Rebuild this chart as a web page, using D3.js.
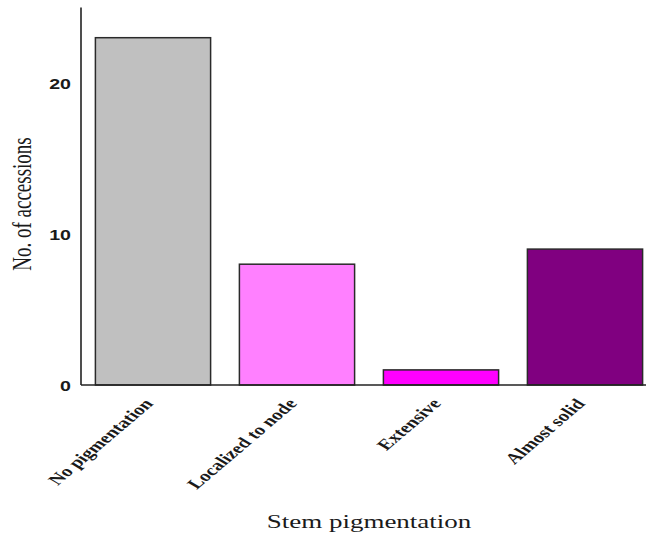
<!DOCTYPE html>
<html><head><meta charset="utf-8">
<script src="https://cdn.jsdelivr.net/npm/d3@7"></script>
<style>body{margin:0;background:#fff}svg{display:block}</style>
</head><body>
<svg id="chart" width="646" height="538"></svg>
<script>
const categories = ["No pigmentation", "Localized to node", "Extensive", "Almost solid"];
const values = [23, 8, 1, 9];
const colors = ["#c0c0c0", "#ff80ff", "#ff00ff", "#800080"];
const yTicks = [0, 10, 20];
const yTitle = "No. of accessions";
const xTitle = "Stem pigmentation";

(function () {
const W = 646, H = 538;
const svg = d3.select("#chart");
const mLeft = 81, mBottom = 385, mTop = 7.5;
const sx = 1.4; // horizontal stretch of the source figure

const x = d3.scaleBand().domain(categories).range([mLeft, 657]).paddingInner(0.2).paddingOuter(0.1);
const y = d3.scaleLinear().domain([0, 25]).range([mBottom, mTop]);

// bars
svg.selectAll("rect.bar").data(categories).join("rect")
  .attr("class", "bar")
  .attr("x", d => x(d))
  .attr("width", x.bandwidth())
  .attr("y", (d, i) => y(values[i]))
  .attr("height", (d, i) => y(0) - y(values[i]))
  .attr("fill", (d, i) => colors[i])
  .attr("stroke", "#2a2a2a")
  .attr("stroke-width", 1.5);

// axes lines
svg.append("line").attr("x1", mLeft).attr("x2", mLeft).attr("y1", y(25)).attr("y2", y(0))
  .attr("stroke", "#222").attr("stroke-width", 1.6);
svg.append("line").attr("x1", mLeft).attr("x2", W).attr("y1", y(0)).attr("y2", y(0))
  .attr("stroke", "#222").attr("stroke-width", 1.6);

// y ticks
const yAxis = svg.append("g").attr("transform", `translate(${mLeft},0)`)
  .call(d3.axisLeft(y).tickValues(yTicks).tickSize(0).tickFormat(d3.format("d")));
yAxis.select(".domain").remove();
yAxis.selectAll("text")
  .attr("x", 0).attr("dy", "0.36em")
  .attr("transform", `translate(-10,0) scale(${sx},1)`)
  .attr("text-anchor", "end")
  .style("font-family", "'Liberation Sans', Arial, sans-serif")
  .style("font-weight", "bold")
  .style("font-size", "14px")
  .attr("fill", "#1a1a1a");

// x labels
svg.selectAll("text.xlab").data(categories).join("text")
  .attr("class", "xlab")
  .attr("transform", d => `translate(${x(d) + x.bandwidth() / 2 + 1},404) scale(${sx},1) rotate(-50)`)
  .attr("text-anchor", "end")
  .style("font-family", "'Liberation Serif', 'Times New Roman', serif")
  .style("font-weight", "bold")
  .style("font-size", "15px")
  .attr("fill", "#1a1a1a")
  .text(d => d);

// y title
svg.append("text")
  .attr("transform", `translate(31,204) scale(${sx},1) rotate(-90)`)
  .attr("text-anchor", "middle")
  .style("font-family", "'Liberation Serif', 'Times New Roman', serif")
  .style("font-size", "19px")
  .attr("fill", "#1a1a1a")
  .text(yTitle);

// x title
svg.append("text")
  .attr("transform", `translate(369,528) scale(1.42,1)`)
  .attr("text-anchor", "middle")
  .style("font-family", "'Liberation Serif', 'Times New Roman', serif")
  .style("font-size", "19px")
  .attr("fill", "#1a1a1a")
  .text(xTitle);
})();
</script>
</body></html>
